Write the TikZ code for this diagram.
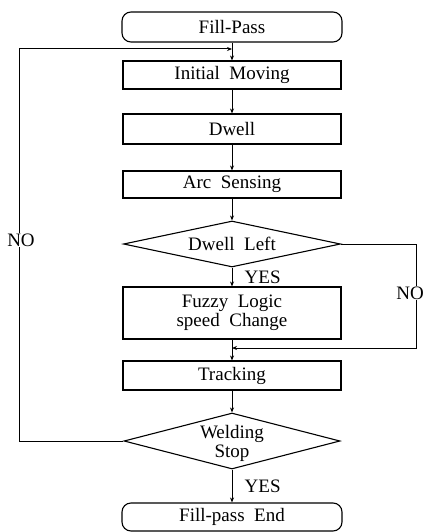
\documentclass[tikz,border=0pt]{standalone}
\usepackage{fontspec}
\setmainfont{Liberation Serif}
\usetikzlibrary{shapes.geometric,arrows.meta}

\tikzset{
  stepbox/.style={draw, line width=1.1pt, minimum width=218pt, inner sep=0pt},
  endbox/.style={draw, line width=1.1pt, rounded corners=9pt, minimum width=220pt, inner sep=0pt},
  testbox/.style={draw, diamond, line width=1.1pt, inner sep=0pt},
  arr/.style={-{Stealth[length=5pt,width=4pt]}, line width=0.8pt},
  loopline/.style={line width=1pt},
  lbl/.style={inner sep=0.5pt, fill=white}
}

\begin{document}
\begin{tikzpicture}[x=1pt, y=1pt]

  \fontsize{19}{21}\selectfont

  \newcommand\X{232}
  \newcommand\XL{19}
  \newcommand\XR{416}

  \useasboundingbox (0,0) rectangle (426,-532);

  \node[endbox, minimum height=30pt] (start) at (\X,-27) {Fill-Pass};
  \node[stepbox, minimum height=28pt] (init) at (\X,-75) {Initial\ \ Moving};
  \node[stepbox, minimum height=30pt] (dwell) at (\X,-129) {Dwell};
  \node[stepbox, minimum height=27pt] (arc) at (\X,-184.5) {Arc\ \ Sensing};
  \node[testbox, minimum width=217pt, minimum height=46pt,
        label=center:{Dwell\ \ Left}] (dleft) at (\X,-244) {};
  \node[stepbox, minimum height=52pt, align=center] (fuzzy) at (\X,-313)
        {Fuzzy\ \ Logic\\[-2pt]speed\ \ Change};
  \node[stepbox, minimum height=29pt] (track) at (\X,-375.5) {Tracking};
  \node[testbox, minimum width=216pt, minimum height=56pt,
        label={[align=center, yshift=-2pt]center:{Welding\\[-2pt]Stop}}] (wstop) at (\X,-441) {};
  \node[endbox, minimum height=28pt] (stop) at (\X,-517) {Fill-pass\ \ End};

  \coordinate (j1) at (\X,-49);
  \coordinate (j2) at (\X,-348);

  \draw[arr] (start) -- (init);
  \draw[arr] (init) -- (dwell);
  \draw[arr] (dwell) -- (arc);
  \draw[arr] (arc) -- (dleft);
  \draw[arr] (dleft) -- node[right, xshift=6pt]{YES} (fuzzy);
  \draw[arr] (fuzzy) -- (track);
  \draw[arr] (track) -- (wstop);
  \draw[arr] (wstop) -- node[right, xshift=6pt]{YES} (stop);

  % NO loops
  \draw[loopline, -{Stealth[length=5pt,width=4pt]}]
    (dleft.east) -| (\XR,-348) -- (j2);
  \node[lbl] (no1) at (410,-293) {NO};

  \draw[loopline, -{Stealth[length=5pt,width=4pt]}]
    (wstop.west) -| (\XL,-49) -- (j1);
  \node[lbl] (no2) at (21,-240) {NO};

\end{tikzpicture}
\end{document}
